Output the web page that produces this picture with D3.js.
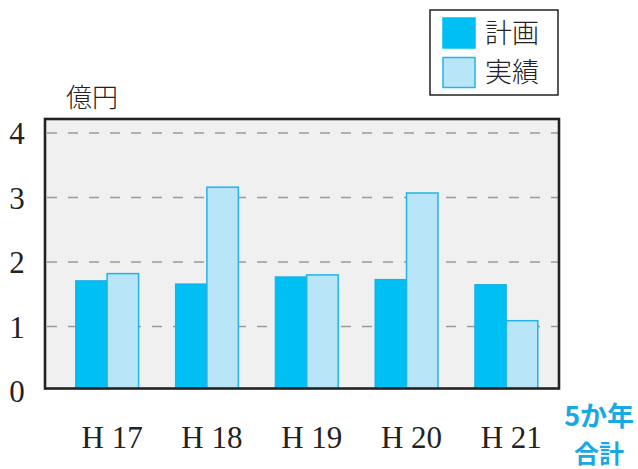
<!DOCTYPE html>
<html><head><meta charset="utf-8">
<script src="https://cdn.jsdelivr.net/npm/d3@7"></script>
<style>body{margin:0;background:#fff}svg{display:block}</style>
</head><body>
<svg id="c" width="638" height="469"></svg>
<script>
const categories = ["H 17", "H 18", "H 19", "H 20", "H 21"];
const totalLabel = ["5か年", "合計"];
const seriesNames = ["計画", "実績"];
const plan = [1.71, 1.66, 1.77, 1.73, 1.65];
const actual = [1.82, 3.16, 1.80, 3.07, 1.09];
const yTicks = [0, 1, 2, 3, 4];
const unitLabel = "億円";

const svg = d3.select("#c");
const frame = {l: 45, r: 559, t: 119, b: 388.5};
const colors = {plan: "#00BFF3", actualFill: "#B9E5F8", actualStroke: "#22B4EA"};

const x = d3.scaleBand([...categories, "total"], [57.2, 656]).padding(0);
const x1 = d3.scaleBand(["plan", "actual"], [0, x.bandwidth()]).paddingInner(0).paddingOuter(0.585);
const y = d3.scaleLinear([0, 4], [391, 133]);

// plot background
svg.append("rect").attr("x", frame.l).attr("y", frame.t)
  .attr("width", frame.r - frame.l).attr("height", frame.b - frame.t)
  .attr("fill", "#F0F0F0");

svg.append("clipPath").attr("id", "clip").append("rect")
  .attr("x", frame.l).attr("y", frame.t)
  .attr("width", frame.r - frame.l).attr("height", frame.b - frame.t);

// gridlines
svg.append("g").selectAll("line").data(yTicks.filter(d => d > 0)).join("line")
  .attr("x1", frame.l + 2).attr("x2", frame.r)
  .attr("y1", d => y(d)).attr("y2", d => y(d))
  .attr("stroke", "#9a9a9a").attr("stroke-width", 1.6)
  .attr("stroke-dasharray", "10,11");

// bars
const rows = categories.map((c, i) => ({c, plan: plan[i], actual: actual[i]}));
const g = svg.append("g").attr("clip-path", "url(#clip)");
const grp = g.selectAll("g").data(rows).join("g")
  .attr("transform", d => `translate(${x(d.c)},0)`);
grp.append("rect")
  .attr("x", x1("plan")).attr("width", x1.bandwidth())
  .attr("y", d => y(d.plan)).attr("height", d => y(0) - y(d.plan))
  .attr("fill", colors.plan).attr("stroke", "#1AADE3").attr("stroke-width", 1);
grp.append("rect")
  .attr("x", x1("actual")).attr("width", x1.bandwidth())
  .attr("y", d => y(d.actual)).attr("height", d => y(0) - y(d.actual))
  .attr("fill", colors.actualFill).attr("stroke", colors.actualStroke).attr("stroke-width", 1.5);

// frame
svg.append("rect").attr("x", frame.l).attr("y", frame.t)
  .attr("width", frame.r - frame.l).attr("height", frame.b - frame.t)
  .attr("fill", "none").attr("stroke", "#222").attr("stroke-width", 2.6);

// y axis labels
const yAxis = d3.axisLeft(y).tickValues(yTicks).tickSize(0).tickPadding(0).tickFormat(d3.format("d"));
const ya = svg.append("g").attr("transform", "translate(26,0)").call(yAxis);
ya.select(".domain").remove();
ya.selectAll("text").attr("font-family", "'Liberation Serif', 'DejaVu Serif', serif")
  .attr("font-size", 31).attr("fill", "#222").attr("text-anchor", "middle").attr("x", -9).attr("dy", "0.35em");

// unit label
svg.append("text").attr("x", 66).attr("y", 107).text(unitLabel)
  .attr("font-family", "'Noto Sans CJK JP', sans-serif").attr("font-size", 26)
  .attr("font-weight", 300).attr("fill", "#222");

// x axis labels
const xAxis = d3.axisBottom(x).tickValues(categories).tickSize(0).tickPadding(0);
const xa = svg.append("g").attr("transform", "translate(5,448)").call(xAxis);
xa.select(".domain").remove();
xa.selectAll("text").attr("font-family", "'Liberation Serif', 'DejaVu Serif', serif")
  .attr("font-size", 31).attr("fill", "#222").attr("dy", 0).attr("y", 0);

// total label
const tl = svg.append("text").attr("text-anchor", "middle")
  .attr("font-family", "'Noto Sans CJK JP', sans-serif").attr("font-weight", 700)
  .attr("fill", "#18A9E2");
totalLabel.forEach((t, i) => {
  tl.append("tspan").attr("x", x("total") + x.bandwidth() / 2 - 7).attr("y", 426 + i * 37)
    .attr("font-size", i === 0 ? 27 : 25).text(t);
});

// legend
const lg = svg.append("g");
lg.append("rect").attr("x", 430).attr("y", 10).attr("width", 128).attr("height", 85)
  .attr("fill", "#fff").attr("stroke", "#222").attr("stroke-width", 1.5);
const lgItems = [
  {name: seriesNames[0], fill: colors.plan, stroke: colors.plan},
  {name: seriesNames[1], fill: colors.actualFill, stroke: colors.actualStroke}
];
const li = lg.selectAll("g").data(lgItems).join("g")
  .attr("transform", (d, i) => `translate(443,${18 + i * 39.5})`);
li.append("rect").attr("width", 32).attr("height", 30)
  .attr("fill", d => d.fill).attr("stroke", d => d.stroke).attr("stroke-width", 1.5);
li.append("text").attr("x", 42).attr("y", 15).attr("dy", "0.36em").text(d => d.name)
  .attr("font-family", "'Noto Sans CJK JP', sans-serif").attr("font-size", 27)
  .attr("font-weight", 300).attr("fill", "#222");
</script>
</body></html>
